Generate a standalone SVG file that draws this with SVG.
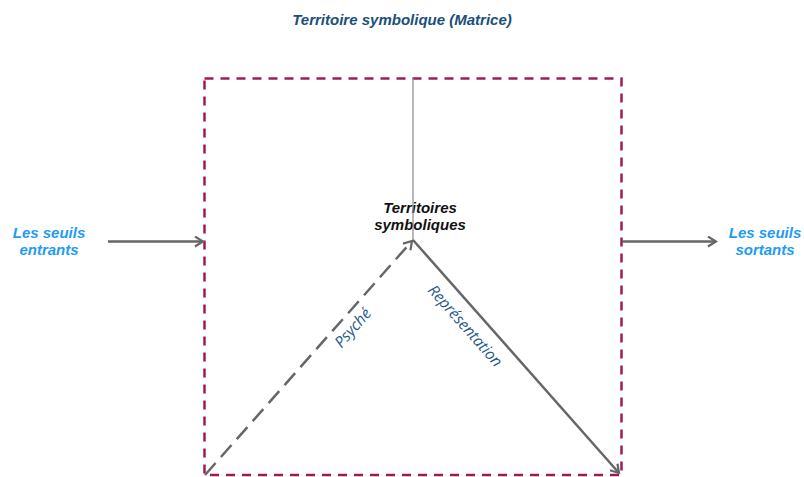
<svg xmlns="http://www.w3.org/2000/svg" width="804" height="477" viewBox="0 0 804 477">
<style>
.t{font-family:"Liberation Sans",Arial,sans-serif;font-weight:bold;font-style:italic}
.title{font-size:15px;fill:#1b4f7a}
.seuil{font-size:15px;fill:#1e9bf5}
.node{font-size:15px;fill:#111}
.lab{font-family:"Open Sans","Noto Sans",sans-serif;font-style:italic;font-size:15.5px;fill:#1f5a8c}
.box{fill:none;stroke:#9c1c57;stroke-width:2.5;stroke-dasharray:9 7}
.ln{fill:none;stroke:#666;stroke-width:2.5}
</style>
<defs>
<marker id="ah" viewBox="0 0 12 12" refX="10" refY="6" markerWidth="12" markerHeight="12" markerUnits="userSpaceOnUse" orient="auto">
<path d="M2,1 L10,6 L2,11" fill="none" stroke="#666" stroke-width="2.2"/>
</marker>
</defs>
<rect width="804" height="477" fill="#fff"/>
<text class="t title" x="402" y="25" text-anchor="middle">Territoire symbolique (Matrice)</text>
<g id="matrice">
<rect class="box" x="204.5" y="78.5" width="417" height="396.5"/>
</g>
<g id="seuils-entrants">
<text class="t seuil" x="49" y="238" text-anchor="middle">Les seuils</text>
<text class="t seuil" x="49" y="255" text-anchor="middle">entrants</text>
</g>
<g id="seuils-sortants">
<text class="t seuil" x="765" y="238" text-anchor="middle">Les seuils</text>
<text class="t seuil" x="765" y="255" text-anchor="middle">sortants</text>
</g>
<g id="territoires">
<text class="t node" x="420" y="213" text-anchor="middle">Territoires</text>
<text class="t node" x="420" y="230" text-anchor="middle">symboliques</text>
</g>
<g id="connectors">
<line x1="413" y1="78" x2="413" y2="240" stroke="#8a8a8a" stroke-width="1.2"/>
<line class="ln" x1="108" y1="241.5" x2="203" y2="241.5" marker-end="url(#ah)"/>
<line class="ln" x1="622" y1="241.5" x2="716" y2="241.5" marker-end="url(#ah)"/>
<line class="ln" x1="205" y1="475" x2="412" y2="241" stroke-dasharray="16 8" marker-end="url(#ah)"/>
<line class="ln" x1="413" y1="240" x2="619" y2="473" marker-end="url(#ah)"/>
<text class="lab" x="353" y="333" text-anchor="middle" transform="rotate(-48.5 353 328)">Psyché</text>
<text class="lab" x="465" y="331" text-anchor="middle" transform="rotate(48.5 465 326)">Représentation</text>
</g>
</svg>
